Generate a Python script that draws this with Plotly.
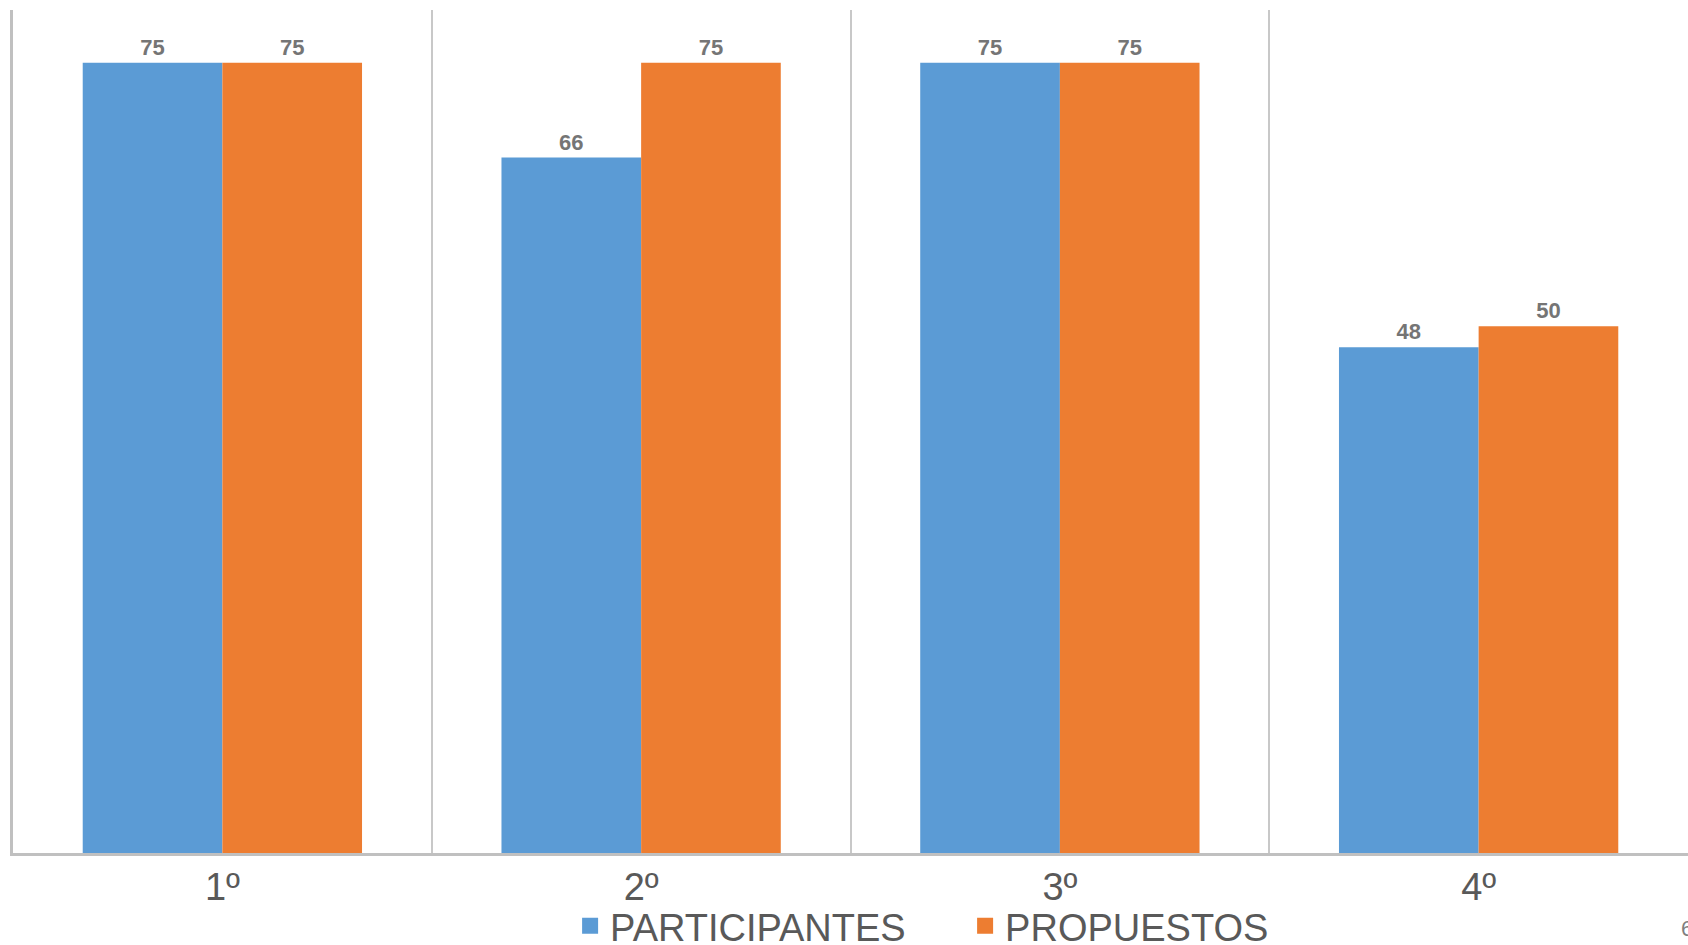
import plotly.graph_objects as go

categories = ["1º", "2º", "3º", "4º"]
participantes = [75, 66, 75, 48]
propuestos = [75, 75, 75, 50]
series_names = ["PARTICIPANTES", "PROPUESTOS"]
colors = ["#5B9BD5", "#ED7D31"]

fig = go.Figure()
for name, vals, col in zip(series_names, [participantes, propuestos], colors):
    fig.add_trace(go.Bar(
        x=categories, y=vals, name=name,
        marker=dict(color=col, line=dict(width=0)),
        text=vals, textposition="outside",
        textfont=dict(family="Liberation Sans", size=22, color="#757575", weight="bold"),
        cliponaxis=False, showlegend=False,
    ))
    # legend entry with larger square symbol
    fig.add_trace(go.Scatter(
        x=[None], y=[None], mode="markers", name=name,
        marker=dict(symbol="square", size=16, color=col),
        showlegend=True,
    ))

fig.update_layout(
    width=1688, height=945,
    margin=dict(l=13, r=0, t=10, b=92, autoexpand=False),
    paper_bgcolor="white", plot_bgcolor="white",
    barmode="group", bargap=0.333, bargroupgap=0,
    font=dict(family="Liberation Sans", color="#595959"),
    legend=dict(
        orientation="h", x=0.3326, xanchor="left",
        yref="container", y=0.02, yanchor="middle",
        font=dict(size=38, color="#595959"), itemsizing="trace",
        entrywidth=350, bgcolor="rgba(0,0,0,0)",
    ),
    xaxis=dict(
        type="category", tickson="boundaries", ticklen=0,
        showgrid=True, gridcolor="#C8C8C8", gridwidth=2,
        showline=True, linecolor="#C0C0C0", linewidth=3,
        tickfont=dict(size=38, color="#595959"),
        ticklabelstandoff=-2,
        zeroline=False, automargin=False,
    ),
    yaxis=dict(
        range=[0, 80], showticklabels=False, showgrid=False, zeroline=False,
        showline=True, linecolor="#C0C0C0", linewidth=3, ticks="",
        automargin=False,
    ),
)

fig.add_annotation(
    text="6", xref="paper", yref="paper", x=0.9946, y=-0.089,
    xanchor="left", yanchor="middle", showarrow=False,
    font=dict(size=22, color="#7F7F7F"),
)

fig.write_html(
    "out.html",
    config={"displayModeBar": False},
    post_script="document.body.style.margin='0';document.body.style.overflow='hidden';",
)
